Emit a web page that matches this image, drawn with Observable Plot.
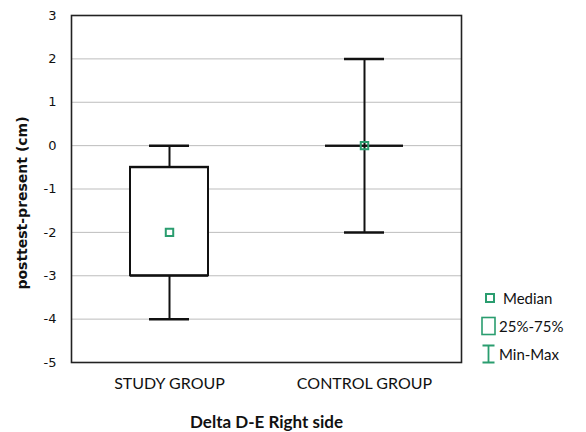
<!DOCTYPE html>
<html><head><meta charset="utf-8">
<script src="https://cdn.jsdelivr.net/npm/d3@7"></script>
<script src="https://cdn.jsdelivr.net/npm/@observablehq/plot@0.6"></script>
<style>
body{margin:0;background:#fff;}
#wrap{position:relative;width:586px;height:432px;}
#legend{position:absolute;left:481px;top:284px;font-family:Lato,sans-serif;font-size:15px;color:#111;}
.li{display:flex;align-items:center;height:28px;}
.li svg{margin-right:2px;}
</style></head>
<body><div id="wrap"><div id="legend"></div></div>
<script>
const groups = ["STUDY GROUP", "CONTROL GROUP"];
const minVals = [-4, -2];
const q1Vals = [-3, 0];
const medianVals = [-2, 0];
const q3Vals = [-0.5, 0];
const maxVals = [0, 2];
const yTicks = [-5, -4, -3, -2, -1, 0, 1, 2, 3];
const legendLabels = ["Median", "25%-75%", "Min-Max"];
const xTitle = "Delta D-E Right side";
const yTitle = "posttest-present (cm)";

const data = groups.map((g, i) => ({g, min: minVals[i], q1: q1Vals[i], med: medianVals[i], q3: q3Vals[i], max: maxVals[i]}));
const green = "#2a9d6f";

const chart = Plot.plot({
  width: 586, height: 432,
  marginLeft: 71, marginRight: 125, marginTop: 15, marginBottom: 70,
  style: {fontFamily: "Lato, sans-serif", background: "#fff"},
  x: {type: "band", domain: groups, paddingInner: 0.6, paddingOuter: 0.3, label: null},
  y: {domain: [-5, 3], ticks: yTicks, label: null},
  marks: [
    Plot.gridY(yTicks, {stroke: "#999", strokeOpacity: 0.65, strokeWidth: 1}),
    Plot.axisY(yTicks, {tickSize: 0, tickPadding: 15, fontSize: 13, fontFamily: "DejaVu Sans, sans-serif", fill: "#111", tickFormat: d => String(d).replace("−", "-"), label: null}),
    Plot.axisX({tickSize: 0, tickPadding: 15, fontSize: 16, fill: "#111", label: null}),
    Plot.ruleX(data, {x: "g", y1: "min", y2: "max", stroke: "#111", strokeWidth: 2}),
    Plot.barY(data, {x: "g", y1: "q1", y2: "q3", fill: "white", stroke: "#111", strokeWidth: 2}),
    Plot.tickY(data, {x: "g", y: "q1", stroke: "#111", strokeWidth: 2}),
    Plot.tickY(data, {x: "g", y: "q3", stroke: "#111", strokeWidth: 2}),
    Plot.tickY(data, {x: "g", y: "min", stroke: "#111", strokeWidth: 2.5, insetLeft: 19, insetRight: 19}),
    Plot.tickY(data, {x: "g", y: "max", stroke: "#111", strokeWidth: 2.5, insetLeft: 19, insetRight: 19}),
    Plot.dot(data, {x: "g", y: "med", symbol: "square", r: 4.2, stroke: green, strokeWidth: 2, fill: "none"}),
    Plot.frame({stroke: "#222", strokeWidth: 1.6}),
    Plot.text([xTitle], {frameAnchor: "bottom", lineAnchor: "middle", dy: 60, fontSize: 17, fontWeight: "bold", fill: "#111"}),
    Plot.text([yTitle], {frameAnchor: "left", textAnchor: "middle", dx: -49, dy: 14, rotate: -90, fontSize: 14, fontWeight: "bold", fontFamily: "DejaVu Sans, sans-serif", fill: "#111"})
  ]
});
document.getElementById("wrap").prepend(chart);

const icons = [
  `<svg width="20" height="16"><rect x="5" y="4" width="8" height="8" fill="none" stroke="${green}" stroke-width="2"/></svg>`,
  `<svg width="16" height="20"><rect x="1" y="1.5" width="13" height="17" fill="none" stroke="${green}" stroke-width="1.6"/></svg>`,
  `<svg width="16" height="20"><path d="M1.5 1.5H13.5M1.5 18.5H13.5M7.5 1.5V18.5" fill="none" stroke="${green}" stroke-width="1.8"/></svg>`
];
document.getElementById("legend").innerHTML = legendLabels.map((l, i) => `<div class="li">${icons[i]}<span>${l}</span></div>`).join("");
</script></body></html>
